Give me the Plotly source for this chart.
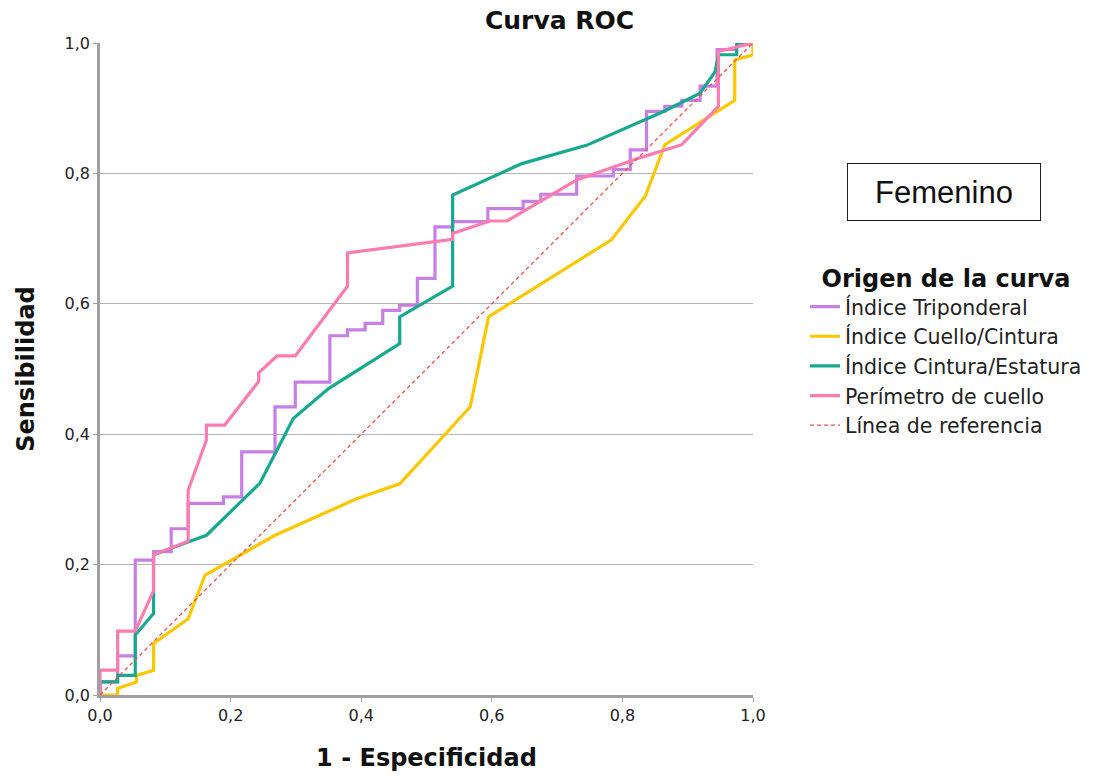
import plotly.graph_objects as go

# Índice Triponderal
tri_x = [0, 0, 0.027, 0.027, 0.054, 0.054, 0.082, 0.082, 0.109, 0.109, 0.135, 0.135, 0.189, 0.189,
         0.217, 0.217, 0.268, 0.268, 0.299, 0.299, 0.352, 0.352, 0.379, 0.379, 0.406, 0.406, 0.433,
         0.433, 0.459, 0.459, 0.486, 0.486, 0.513, 0.513, 0.540, 0.540, 0.594, 0.594, 0.648, 0.648,
         0.675, 0.675, 0.730, 0.730, 0.786, 0.786, 0.812, 0.812, 0.837, 0.837, 0.865, 0.865, 0.891,
         0.891, 0.919, 0.919, 0.945, 0.945, 0.975, 0.975, 1.0]
tri_y = [0, 0.02, 0.02, 0.06, 0.06, 0.207, 0.207, 0.22, 0.22, 0.255, 0.255, 0.294, 0.294, 0.304,
         0.304, 0.373, 0.373, 0.442, 0.442, 0.48, 0.48, 0.551, 0.551, 0.56, 0.56, 0.57, 0.57,
         0.59, 0.59, 0.598, 0.598, 0.639, 0.639, 0.718, 0.718, 0.726, 0.726, 0.746, 0.746, 0.757,
         0.757, 0.768, 0.768, 0.796, 0.796, 0.806, 0.806, 0.836, 0.836, 0.895, 0.895, 0.903, 0.903,
         0.912, 0.912, 0.934, 0.934, 0.99, 0.99, 1.0, 1.0]

# Índice Cuello/Cintura
cc_x = [0, 0.027, 0.027, 0.056, 0.056, 0.082, 0.082, 0.135, 0.161, 0.268, 0.393, 0.459, 0.567,
        0.595, 0.783, 0.835, 0.865, 0.919, 0.972, 0.972, 1.0, 1.0]
cc_y = [0, 0, 0.01, 0.02, 0.03, 0.038, 0.079, 0.117, 0.184, 0.245, 0.301, 0.324, 0.442,
        0.58, 0.698, 0.765, 0.844, 0.879, 0.912, 0.974, 0.982, 1.0]

# Índice Cintura/Estatura
ce_x = [0, 0, 0.027, 0.027, 0.054, 0.054, 0.082, 0.082, 0.138, 0.163, 0.245, 0.296, 0.350, 0.459,
        0.459, 0.540, 0.540, 0.646, 0.745, 0.863, 0.919, 0.942, 0.947, 0.975, 0.975, 1.0]
ce_y = [0, 0.02, 0.02, 0.03, 0.03, 0.092, 0.125, 0.215, 0.236, 0.245, 0.325, 0.424, 0.47, 0.539,
        0.58, 0.627, 0.767, 0.815, 0.843, 0.895, 0.923, 0.956, 0.982, 0.982, 1.0, 1.0]

# Perímetro de cuello
pc_x = [0, 0, 0.027, 0.027, 0.054, 0.082, 0.082, 0.135, 0.135, 0.163, 0.163, 0.191, 0.243, 0.243,
        0.271, 0.299, 0.379, 0.379, 0.540, 0.540, 0.597, 0.623, 0.730, 0.830, 0.891, 0.947, 0.947, 1.0]
pc_y = [0, 0.038, 0.038, 0.098, 0.098, 0.16, 0.215, 0.236, 0.314, 0.391, 0.414, 0.414, 0.481, 0.494,
        0.52, 0.52, 0.627, 0.678, 0.699, 0.708, 0.727, 0.727, 0.790, 0.825, 0.844, 0.903, 0.987, 1.0]

ref_x = [0, 1]
ref_y = [0, 1]

names = ["Índice Triponderal", "Índice Cuello/Cintura", "Índice Cintura/Estatura",
         "Perímetro de cuello", "Línea de referencia"]
colors = ["#c77fe6", "#fdc700", "#17a98f", "#fb7cb0", "#f25050"]

fig = go.Figure()
series = [(tri_x, tri_y), (cc_x, cc_y), (ce_x, ce_y), (pc_x, pc_y)]
for (xs, ys), n, c in zip(series, names[:4], colors[:4]):
    fig.add_trace(go.Scatter(x=xs, y=ys, mode="lines", name=n,
                             line=dict(color=c, width=3.2)))
fig.add_trace(go.Scatter(x=ref_x, y=ref_y, mode="lines", name=names[4],
                         line=dict(color=colors[4], width=1.3, dash="4px,3px")))

axis_font = dict(family="DejaVu Sans", size=16, color="#222")
bold_font = dict(family="DejaVu Sans", size=24, color="#111")
fig.update_layout(
    width=1108, height=780,
    margin=dict(l=100, r=355, t=43, b=85),
    paper_bgcolor="white", plot_bgcolor="white",
    separators=",.",
    title=dict(text="<b>Curva ROC</b>", x=0.505, xanchor="center", y=0.974, yanchor="middle",
               font=dict(family="DejaVu Sans", size=25, color="#111")),
    xaxis=dict(range=[0, 1], tickvals=[0, 0.2, 0.4, 0.6, 0.8, 1.0], tickformat=".1f",
               showgrid=False, zeroline=False, showline=True, linecolor="#a0a0a0", linewidth=2.5,
               ticks="outside", ticklen=4, tickcolor="#a0a0a0", tickfont=axis_font,
               title=dict(text="<b>1 - Especificidad</b>", standoff=26, font=bold_font)),
    yaxis=dict(range=[0, 1], tickvals=[0, 0.2, 0.4, 0.6, 0.8, 1.0], tickformat=".1f",
               showgrid=True, gridcolor="#b4b4b4", gridwidth=1.3, zeroline=False,
               showline=True, linecolor="#a0a0a0", linewidth=2.5,
               ticks="outside", ticklen=4, tickcolor="#a0a0a0", tickfont=axis_font,
               title=dict(text="<b>Sensibilidad</b>", standoff=24, font=bold_font)),
    legend=dict(x=1.0796, y=0.674, xanchor="left", yanchor="top",
                font=dict(family="DejaVu Sans", size=20.5, color="#222"),
                tracegroupgap=0, itemwidth=30,
                title=dict(text="<b>Origen de la curva</b>", side="top center",
                           font=dict(family="DejaVu Sans", size=24, color="#111"))),
    annotations=[dict(text="Femenino", xref="paper", yref="paper", x=1.292, y=0.771,
                      xanchor="center", yanchor="middle", showarrow=False,
                      font=dict(family="Liberation Sans", size=31, color="#111"),
                      bordercolor="#222", borderwidth=1, borderpad=10, width=172, height=36)],
)

fig.write_html("out.html")
